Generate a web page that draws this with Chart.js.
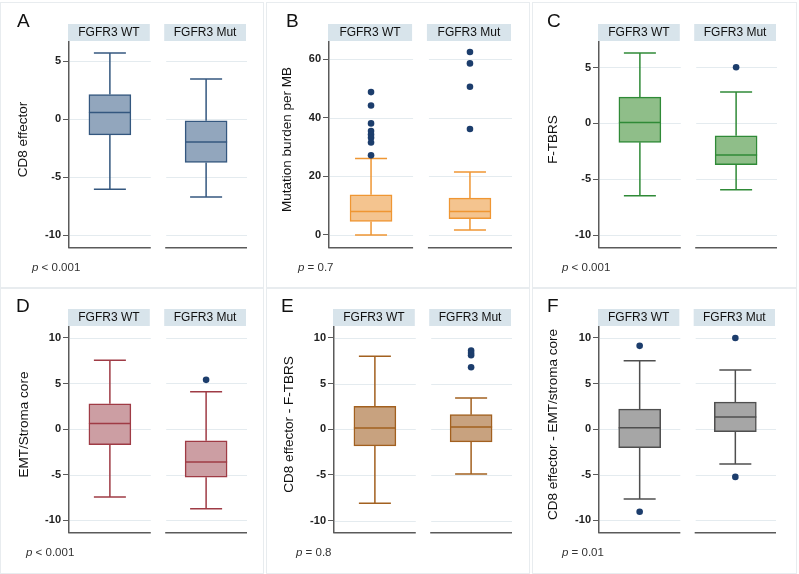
<!DOCTYPE html>
<html>
<head>
<meta charset="utf-8">
<script src="https://cdn.jsdelivr.net/npm/chart.js@4/dist/chart.umd.min.js"></script>
<style>
  html, body { margin: 0; padding: 0; background: #fff; }
  #fig { position: relative; width: 799px; height: 574px; overflow: hidden; }
  #fig canvas { position: absolute; }
</style>
</head>
<body>
<div id="fig">
  <canvas id="cA" width="266" height="290" style="left:0;top:0"></canvas>
  <canvas id="cB" width="266" height="290" style="left:266px;top:0"></canvas>
  <canvas id="cC" width="267" height="290" style="left:532px;top:0"></canvas>
  <canvas id="cD" width="266" height="290" style="left:0;top:285px"></canvas>
  <canvas id="cE" width="266" height="290" style="left:266px;top:285px"></canvas>
  <canvas id="cF" width="267" height="290" style="left:532px;top:285px"></canvas>
</div>
<script>
// groups shown in each panel
const groups = ['FGFR3 WT', 'FGFR3 Mut'];

// five-number summaries: lower whisker, Q1, median, Q3, upper whisker
const cd8WT    = [-6.02, -1.35, 0.57, 2.12, 5.70];
const cd8Mut   = [-6.70, -3.72, -1.95, -0.14, 3.47];
const tmbWT    = [0.0, 4.65, 8.05, 13.7, 26.1];
const tmbMut   = [1.7, 5.55, 8.05, 12.6, 21.5];
const ftbrsWT  = [-6.47, -1.69, 0.09, 2.35, 6.30];
const ftbrsMut = [-5.94, -3.68, -2.82, -1.10, 2.82];
const emtWT    = [-7.45, -1.72, 0.62, 2.77, 7.55];
const emtMut   = [-8.76, -5.29, -3.61, -1.28, 4.09];
const cd8FtWT  = [-8.11, -1.82, 0.15, 2.51, 8.00];
const cd8FtMut = [-4.91, -1.38, 0.25, 1.60, 3.42];
const cd8EmWT  = [-7.69, -2.04, 0.15, 2.19, 7.50];
const cd8EmMut = [-3.83, -0.29, 1.31, 2.95, 6.48];

// outside values
const tmbWTOut    = [48.8, 44.2, 38.1, 35.5, 34.3, 33.2, 31.6, 27.2];
const tmbMutOut   = [62.5, 58.6, 50.6, 36.2];
const ftbrsMutOut = [5.02];
const emtMutOut   = [5.40];
const cd8FtMutOut = [8.62, 8.35, 8.10, 6.80];
const cd8EmWTOut  = [9.13, -9.07];
const cd8EmMutOut = [10.0, -5.25];

// y tick labels
const ticksScore = [-10, -5, 0, 5];
const ticksTmb   = [0, 20, 40, 60];
const ticksWide  = [-10, -5, 0, 5, 10];

const pValues = ['< 0.001', '= 0.7', '< 0.001', '< 0.001', '= 0.8', '= 0.01'];

const FONT = "'Liberation Sans', Arial, Helvetica, sans-serif";
const facetRanges = [[0.575, 1.425], [1.575, 2.425]];
const outlierColor = '#1c3d6c';

const panels = [
  { id: 'cA', letter: 'A', title: 'CD8 effector', stats: [cd8WT, cd8Mut], out: [[], []],
    ticks: ticksScore, min: -11.0, max: 6.65, fill: '#92a6bd', line: '#34577f',
    axisW: 69, right: 247, titleCx: 23.3, letterX: 17, pX: 32 },
  { id: 'cB', letter: 'B', title: 'Mutation burden per MB', stats: [tmbWT, tmbMut], out: [tmbWTOut, tmbMutOut],
    ticks: ticksTmb, min: -4.1, max: 65.9, fill: '#f4c48f', line: '#ef9633',
    axisW: 63, right: 246, titleCx: 21.7, letterX: 20, pX: 32 },
  { id: 'cC', letter: 'C', title: 'F-TBRS', stats: [ftbrsWT, ftbrsMut], out: [[], ftbrsMutOut],
    ticks: ticksScore, min: -11.05, max: 7.28, fill: '#8fbe89', line: '#2f8a37',
    axisW: 67, right: 245, titleCx: 21.7, letterX: 15, pX: 30 },
  { id: 'cD', letter: 'D', title: 'EMT/Stroma core', stats: [emtWT, emtMut], out: [[], emtMutOut],
    ticks: ticksWide, min: -11.3, max: 11.2, fill: '#cc9ea3', line: '#9f3b45',
    axisW: 69, right: 247, titleCx: 24, letterX: 16, pX: 26 },
  { id: 'cE', letter: 'E', title: 'CD8 effector - F-TBRS', stats: [cd8FtWT, cd8FtMut], out: [[], cd8FtMutOut],
    ticks: ticksWide, min: -11.25, max: 11.2, fill: '#c8a27f', line: '#a2601f',
    axisW: 68, right: 246, titleCx: 23.3, letterX: 15, pX: 30 },
  { id: 'cF', letter: 'F', title: 'CD8 effector - EMT/stroma core', stats: [cd8EmWT, cd8EmMut], out: [cd8EmWTOut, cd8EmMutOut],
    ticks: ticksWide, min: -11.3, max: 11.2, fill: '#a6a6a6', line: '#4f4f4f',
    axisW: 67, right: 244, titleCx: 21, letterX: 15, pX: 30 }
];

const BOX_W = 42, CAP_W = 32;

function hline(ctx, x1, x2, y) {
  ctx.beginPath(); ctx.moveTo(x1, y); ctx.lineTo(x2, y); ctx.stroke();
}

const facetPlugin = {
  id: 'facets',
  beforeDatasetsDraw(chart) {
    const p = chart.options.plugins.facets.panel;
    const { ctx, scales: { x, y } } = chart;
    ctx.save();
    // light grid lines, broken between facets
    ctx.strokeStyle = '#e4ebef';
    ctx.lineWidth = 1;
    facetRanges.forEach(([a, b]) => {
      const l = x.getPixelForValue(a) + 1, r = x.getPixelForValue(b);
      y.ticks.forEach(t => hline(ctx, l, r, Math.round(y.getPixelForValue(t.value)) + 0.5));
    });
    // whiskers and caps
    ctx.strokeStyle = p.line;
    ctx.lineWidth = 1.5;
    p.stats.forEach((s, i) => {
      const px = x.getPixelForValue(i + 1);
      const lo = y.getPixelForValue(s[0]), q1 = y.getPixelForValue(s[1]);
      const q3 = y.getPixelForValue(s[3]), hi = y.getPixelForValue(s[4]);
      ctx.beginPath();
      ctx.moveTo(px, lo); ctx.lineTo(px, q1);
      ctx.moveTo(px, q3); ctx.lineTo(px, hi);
      ctx.stroke();
      hline(ctx, px - CAP_W / 2, px + CAP_W / 2, lo);
      hline(ctx, px - CAP_W / 2, px + CAP_W / 2, hi);
    });
    ctx.restore();
  },
  afterDatasetsDraw(chart) {
    const p = chart.options.plugins.facets.panel;
    const { ctx, scales: { x, y } } = chart;
    ctx.save();
    ctx.strokeStyle = p.line;
    ctx.lineWidth = 1.5;
    p.stats.forEach((s, i) => {
      const px = x.getPixelForValue(i + 1);
      hline(ctx, px - BOX_W / 2, px + BOX_W / 2, y.getPixelForValue(s[2]));
    });
    ctx.restore();
  },
  afterDraw(chart) {
    const p = chart.options.plugins.facets.panel;
    const pv = chart.options.plugins.facets.pValue;
    const { ctx, chartArea: ca, scales: { x } } = chart;
    const W = chart.width, H = chart.height;
    ctx.save();
    // faint panel frame
    ctx.strokeStyle = '#e8ecef';
    ctx.lineWidth = 1;
    ctx.strokeRect(0.5, 2.5, W - 3, H - 4);
    // strip headers and bottom axis lines
    facetRanges.forEach(([a, b], i) => {
      const l = x.getPixelForValue(a), r = x.getPixelForValue(b);
      ctx.fillStyle = '#d8e4eb';
      ctx.fillRect(l - 1, ca.top - 18, r - l, 17);
      ctx.fillStyle = '#111';
      ctx.font = '12px ' + FONT;
      ctx.textAlign = 'center';
      ctx.textBaseline = 'middle';
      ctx.fillText(groups[i], (l + r) / 2 - 1, ca.top - 9.5);
      ctx.strokeStyle = '#5a5a5a';
      ctx.lineWidth = 1.5;
      hline(ctx, i === 0 ? l - 0.75 : l, r, ca.bottom + 0.75);
    });
    // y-axis title
    ctx.save();
    ctx.translate(p.titleCx, (ca.top + ca.bottom) / 2 - 5);
    ctx.rotate(-Math.PI / 2);
    ctx.fillStyle = '#111';
    ctx.font = '13.5px ' + FONT;
    ctx.textAlign = 'center';
    ctx.textBaseline = 'middle';
    ctx.fillText(p.title, 0, 0);
    ctx.restore();
    // panel letter
    ctx.fillStyle = '#111';
    ctx.textAlign = 'left';
    ctx.textBaseline = 'alphabetic';
    ctx.font = '19px ' + FONT;
    ctx.fillText(p.letter, p.letterX, 27);
    // p value
    ctx.fillStyle = '#333';
    ctx.font = 'italic 11.5px ' + FONT;
    ctx.fillText('p', p.pX, 271);
    const w = ctx.measureText('p').width;
    ctx.font = '11.5px ' + FONT;
    ctx.fillText(' ' + pv, p.pX + w, 271);
    ctx.restore();
  }
};

function renderPanel(p, idx) {
  const canvas = document.getElementById(p.id);
  const boxData = p.stats.map((s, i) => ({ x: i + 1, y: [s[1], s[3]] }));
  const outData = [];
  p.out.forEach((vals, i) => vals.forEach(v => outData.push({ x: i + 1, y: v })));

  return new Chart(canvas, {
    type: 'bar',
    data: {
      datasets: [
        {
          type: 'scatter',
          data: outData,
          backgroundColor: outlierColor,
          borderColor: outlierColor,
          pointRadius: 3.3,
          borderWidth: 0
        },
        {
          data: boxData,
          backgroundColor: p.fill,
          borderColor: p.line,
          borderWidth: 1.5,
          borderSkipped: false,
          barThickness: BOX_W
        }
      ]
    },
    options: {
      responsive: false,
      animation: false,
      events: [],
      layout: { padding: { top: 42, right: canvas.width - p.right, bottom: 43, left: 0 } },
      plugins: {
        legend: { display: false },
        tooltip: { enabled: false },
        facets: { panel: p, pValue: pValues[idx] }
      },
      scales: {
        x: { type: 'linear', display: false, min: facetRanges[0][0], max: facetRanges[1][1], offset: false },
        y: {
          min: p.min,
          max: p.max,
          afterBuildTicks: scale => { scale.ticks = p.ticks.map(v => ({ value: v })); },
          afterFit: scale => { scale.width = p.axisW; },
          border: { display: true, color: '#5a5a5a', width: 1.5 },
          grid: { drawOnChartArea: false, drawTicks: true, tickLength: 6, tickColor: '#5a5a5a', tickWidth: 1 },
          ticks: {
            color: '#222',
            padding: 2,
            font: { family: FONT, size: 11, weight: 'bold' }
          },
          title: { display: false }
        }
      }
    },
    plugins: [facetPlugin]
  });
}

panels.forEach(renderPanel);
</script>
</body>
</html>
